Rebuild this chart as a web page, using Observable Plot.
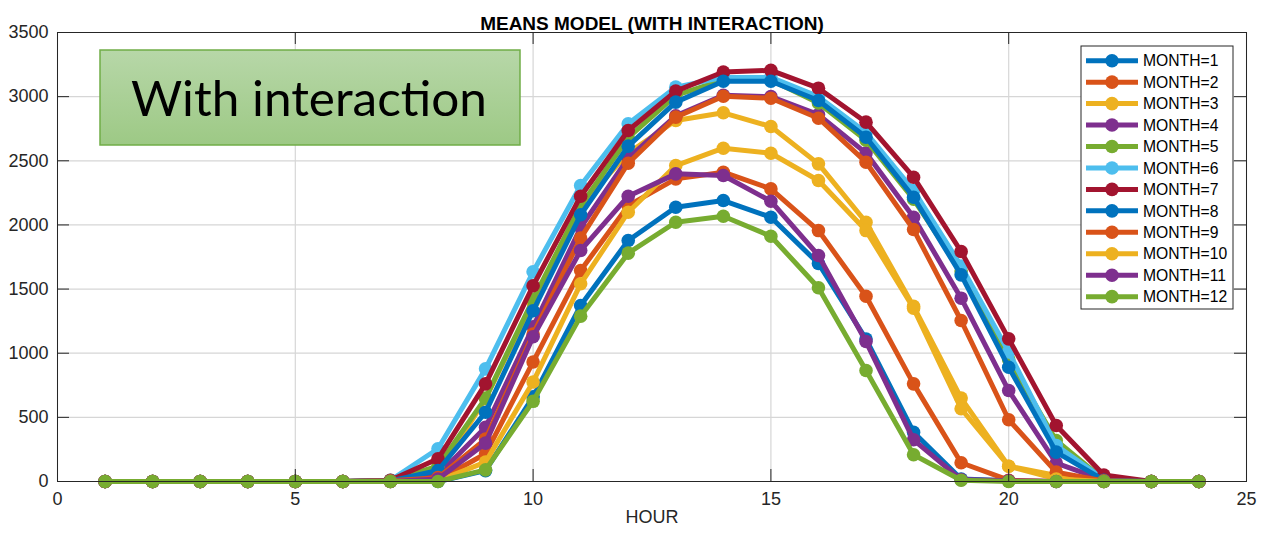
<!DOCTYPE html>
<html><head><meta charset="utf-8">
<script src="https://cdn.jsdelivr.net/npm/d3@7"></script>
<script src="https://cdn.jsdelivr.net/npm/@observablehq/plot@0.6"></script>
<style>
body{margin:0;background:#fff;}
#chart svg{font-family:"Liberation Sans",Arial,sans-serif;}
</style>
</head><body><div id="chart"></div>
<script>
const titleText = "MEANS MODEL (WITH INTERACTION)";
const xLabel = "HOUR";
const boxText = "With interaction";
const hours = [1,2,3,4,5,6,7,8,9,10,11,12,13,14,15,16,17,18,19,20,21,22,23,24];
const xTicks = [0,5,10,15,20,25];
const yTicks = [0,500,1000,1500,2000,2500,3000,3500];
const months = ["MONTH=1","MONTH=2","MONTH=3","MONTH=4","MONTH=5","MONTH=6","MONTH=7","MONTH=8","MONTH=9","MONTH=10","MONTH=11","MONTH=12"];
const colors = ["#0072BD","#D95319","#EDB120","#7E2F8E","#77AC30","#4DBEEE","#A2142F","#0072BD","#D95319","#EDB120","#7E2F8E","#77AC30"];
const m1  = [0,0,0,0,0,0,0,0,85,660,1372,1879,2138,2190,2060,1699,1110,384,20,5,0,0,0,0];
const m2  = [0,0,0,0,0,0,0,10,216,932,1645,2150,2359,2411,2281,1956,1444,761,146,10,0,0,0,0];
const m3  = [0,0,0,0,0,0,5,60,645,1400,2150,2560,2814,2874,2767,2476,2021,1365,650,119,47,5,0,0];
const m4  = [0,0,0,0,0,0,5,50,423,1206,1980,2520,2850,3010,3000,2860,2560,2060,1429,709,143,10,0,0];
const m5  = [0,0,0,0,0,0,8,120,650,1420,2150,2680,3010,3130,3130,2950,2660,2200,1640,950,320,15,0,0];
const m6  = [0,0,0,0,0,0,10,255,878,1635,2307,2788,3074,3150,3150,3000,2720,2270,1680,1010,280,20,0,0];
const m7  = [0,0,0,0,0,0,10,177,761,1526,2224,2736,3043,3192,3205,3066,2801,2372,1793,1112,437,50,0,0];
const m8  = [0,0,0,0,0,0,5,86,540,1331,2079,2614,2957,3120,3120,2970,2684,2216,1611,891,229,10,0,0];
const m9  = [0,0,0,0,0,0,5,30,330,1150,1897,2481,2840,3003,2988,2832,2489,1964,1255,481,73,5,0,0];
const m10 = [0,0,0,0,0,0,0,5,151,776,1541,2099,2463,2598,2559,2346,1956,1350,567,119,20,0,0,0];
const m11 = [0,0,0,0,0,0,0,20,299,1128,1801,2224,2398,2385,2185,1762,1091,325,15,5,0,0,0,0];
const m12 = [0,0,0,0,0,0,0,0,91,625,1289,1780,2021,2068,1912,1510,865,208,10,0,0,0,0,0];
const series = [m1,m2,m3,m4,m5,m6,m7,m8,m9,m10,m11,m12];

const W = 1265, H = 534, mL = 57, mR = 19, mT = 32, mB = 53;
const pw = W - mL - mR, ph = H - mT - mB;

const perMonth = months.map((m, i) => series[i].map((v, j) => ({hour: hours[j], value: v, month: m})));

const gridStyle = {stroke: "#d6d6d6", strokeOpacity: 1, strokeWidth: 1.2};
const marks = [
  Plot.gridX(xTicks, gridStyle),
  Plot.gridY(yTicks, gridStyle),
];
perMonth.forEach(d => {
  marks.push(Plot.line(d, {x: "hour", y: "value", stroke: "month", strokeWidth: 5}));
  marks.push(Plot.dot(d, {x: "hour", y: "value", fill: "month", r: 6.8}));
});
marks.push(
  Plot.frame({stroke: "#262626", strokeWidth: 1}),
  Plot.tickY(yTicks, {y: d => d, insetRight: pw - 12, stroke: "#262626"}),
  Plot.tickY(yTicks, {y: d => d, insetLeft: pw - 12, stroke: "#262626"}),
  Plot.tickX(xTicks, {x: d => d, insetTop: ph - 12, stroke: "#262626"}),
  Plot.tickX(xTicks, {x: d => d, insetBottom: ph - 12, stroke: "#262626"}),
  Plot.axisY(yTicks, {tickSize: 0, tickPadding: 9, fontSize: 18, fill: "#262626", label: null, tickFormat: d => String(d)}),
  Plot.axisX(xTicks, {tickSize: 0, tickPadding: 11, fontSize: 18, fill: "#262626", label: null, tickFormat: d => String(d)}),
  Plot.text([xLabel], {frameAnchor: "bottom", dy: 41, fontSize: 18, fill: "#262626"}),
  Plot.text([titleText], {frameAnchor: "top", dy: -16, fontSize: 19, fontWeight: "bold", fill: "#000"})
);

const chart = Plot.plot({
  width: W, height: H,
  marginLeft: mL, marginRight: mR, marginTop: mT, marginBottom: mB,
  style: {fontFamily: '"Liberation Sans", Arial, sans-serif', background: "#fff"},
  x: {domain: [0, 25]},
  y: {domain: [0, 3500]},
  color: {domain: months, range: colors},
  marks
});
document.getElementById("chart").appendChild(chart);

// annotations: green text box and legend
const svg = d3.select(chart);
const defs = svg.append("defs");
const grad = defs.append("linearGradient").attr("id", "gbox").attr("x1", 0).attr("y1", 0).attr("x2", 0).attr("y2", 1);
grad.append("stop").attr("offset", "0%").attr("stop-color", "#b7d7a8");
grad.append("stop").attr("offset", "100%").attr("stop-color", "#9dc985");
const gb = svg.append("g").attr("text-anchor", "start");
gb.append("rect").attr("x", 100).attr("y", 50).attr("width", 420).attr("height", 95)
  .attr("fill", "url(#gbox)").attr("stroke", "#70ad47").attr("stroke-width", 1.5);
gb.append("text").attr("x", 131).attr("y", 116).attr("font-family", "Lato, 'Open Sans', sans-serif")
  .attr("text-anchor", "start")
  .attr("font-size", 48).attr("fill", "#000").attr("textLength", 356).attr("lengthAdjust", "spacingAndGlyphs")
  .text(boxText);

const lg = svg.append("g").attr("text-anchor", "start");
lg.append("rect").attr("x", 1081).attr("y", 46).attr("width", 152).attr("height", 263)
  .attr("fill", "#fff").attr("stroke", "#262626").attr("stroke-width", 1);
months.forEach((m, i) => {
  const y = 60.7 + i * 21.45;
  lg.append("line").attr("x1", 1086).attr("x2", 1138).attr("y1", y).attr("y2", y)
    .attr("stroke", colors[i]).attr("stroke-width", 5);
  lg.append("circle").attr("cx", 1112).attr("cy", y).attr("r", 6.8).attr("fill", colors[i]);
  lg.append("text").attr("x", 1143).attr("y", y + 5.7).attr("font-size", 15.7).attr("fill", "#000")
    .attr("text-anchor", "start")
    .attr("font-family", '"Liberation Sans", Arial, sans-serif').text(m);
});
</script>
</body></html>
